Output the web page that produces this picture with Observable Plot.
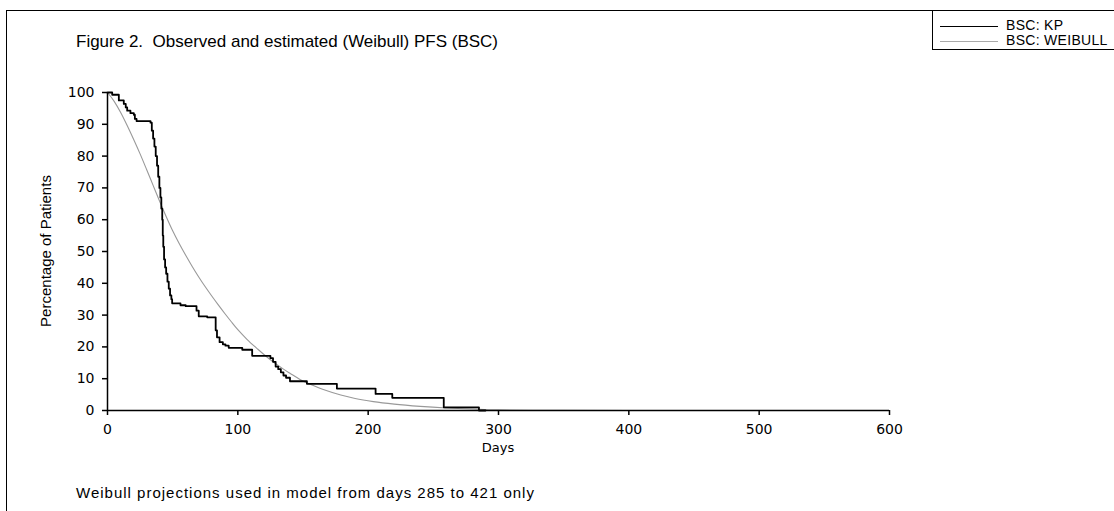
<!DOCTYPE html>
<html><head><meta charset="utf-8">
<script src="https://cdn.jsdelivr.net/npm/d3@7"></script>
<script src="https://cdn.jsdelivr.net/npm/@observablehq/plot@0.6"></script>
<style>
body{margin:0;background:#fff;}
#wrap{position:relative;width:1114px;height:511px;overflow:hidden;background:#fff;}
#frame{position:absolute;left:6px;top:10px;width:1300px;height:700px;border-left:1.5px solid #000;border-top:1.5px solid #000;}
#plot{position:absolute;left:0;top:0;}
#title{position:absolute;left:76px;top:32px;font:17px "Liberation Sans",Arial,sans-serif;white-space:pre;color:#000;}
#caption{position:absolute;left:76px;top:484px;font:15px "Liberation Sans",Arial,sans-serif;letter-spacing:1px;white-space:pre;color:#000;}
#xlabel{position:absolute;left:498px;top:440px;transform:translateX(-50%);font:13px "DejaVu Sans",sans-serif;color:#000;}
#ylabel{position:absolute;left:45px;top:251px;transform:translate(-50%,-50%) rotate(-90deg);font:15px "Liberation Sans Narrow","Liberation Sans",sans-serif;white-space:pre;color:#000;}
#legend{position:absolute;left:932px;top:10px;width:220px;height:38px;border:1.5px solid #000;background:#fff;}
.lg{position:absolute;left:0;height:14px;font:14px "Liberation Sans Narrow","Liberation Sans",sans-serif;letter-spacing:0.3px;white-space:pre;}
.lg span.ln{position:absolute;left:7px;width:58px;top:7px;}
.lg span.tx{position:absolute;left:73px;top:-2px;}
</style>
</head><body>
<div id="wrap">
  <div id="frame"></div>
  <div id="plot"></div>
  <div id="title"></div>
  <div id="xlabel"></div>
  <div id="ylabel"></div>
  <div id="caption"></div>
  <div id="legend"></div>
</div>
<script>
const titleText = "Figure 2.  Observed and estimated (Weibull) PFS (BSC)";
const captionText = "Weibull projections used in model from days 285 to 421 only";
const xLabel = "Days";
const yLabel = "Percentage of Patients";
const seriesNames = ["BSC: KP", "BSC: WEIBULL"];
const xTicks = [0, 100, 200, 300, 400, 500, 600];
const yTicks = [0, 10, 20, 30, 40, 50, 60, 70, 80, 90, 100];

// Kaplan-Meier (observed) PFS, step function: value holds from each day onward
const kpDays = [0, 3.6, 8.7, 12.5, 14, 15.1, 17.6, 20.2, 21, 22.3, 33, 34, 35, 36, 37, 38, 38.9, 39.8, 40.6, 41.3, 42, 42.4, 42.8, 43.4, 44.2, 45, 46, 47, 48, 49, 49.6, 56, 60, 68.3, 70, 76.5, 83, 84, 86, 88.5, 90.5, 93, 103.4, 111, 125, 127, 129, 131, 133, 135, 137, 140, 153, 176, 205.7, 218.5, 258, 285, 290];
const kpPct  = [100, 99.3, 97.5, 96.4, 95.3, 94.3, 93.5, 93, 91.7, 91, 90.5, 88, 85.5, 83, 80, 77, 73.5, 70, 67, 63.5, 60, 55, 51.5, 47.5, 45, 43, 40.5, 38.3, 36.2, 35, 33.7, 33.1, 32.8, 31.4, 29.6, 29.3, 25.2, 23, 21.5, 20.8, 20.4, 19.7, 19.1, 17.2, 16.5, 15.3, 13.8, 13, 12, 11, 10.3, 9.2, 8.4, 6.9, 5.2, 4, 1, 0, 0];

// Weibull (estimated) PFS
const wbDays = [0, 5, 10, 15, 20, 25, 30, 35, 40, 45, 50, 55, 60, 65, 70, 75, 80, 85, 90, 95, 100, 107, 115, 120, 128, 135, 140, 148, 155, 165, 179, 190, 204, 220, 240, 260, 285, 300, 350, 400, 485];
const wbPct  = [100, 97.3, 93.8, 89.7, 85.3, 80.7, 75.8, 70.8, 65.8, 61, 56.5, 52.5, 48.8, 45.3, 42, 38.9, 36, 33.2, 30.5, 27.9, 25.4, 22.4, 19.4, 17.6, 15, 13, 11.7, 9.7, 8.3, 6.7, 4.9, 3.8, 2.8, 2, 1.3, 0.8, 0.4, 0.2, 0.05, 0, 0];

const kp = kpDays.map((d, i) => ({day: d, pct: kpPct[i]}));
const wb = wbDays.map((d, i) => ({day: d, pct: wbPct[i]}));

const chart = Plot.plot({
  width: 1114,
  height: 511,
  marginLeft: 107,
  marginRight: 225,
  marginTop: 92,
  marginBottom: 101,
  style: {fontFamily: "DejaVu Sans, sans-serif", fontSize: "14px", color: "#000", background: "transparent", overflow: "visible"},
  x: {domain: [0, 600]},
  y: {domain: [0, 100]},
  marks: [
    Plot.axisX({ticks: xTicks, tickSize: 5, tickPadding: 9, label: null, tickFormat: d => String(d), stroke: "#000", strokeWidth: 1.5, fontSize: 14}),
    Plot.axisY({ticks: yTicks, tickSize: 5, tickPadding: 8, label: null, tickFormat: d => String(d), stroke: "#000", strokeWidth: 1.5, fontSize: 14}),
    Plot.line(wb, {x: "day", y: "pct", stroke: "#999", strokeWidth: 1.1, curve: "monotone-x"}),
    Plot.line(kp, {x: "day", y: "pct", stroke: "#000", strokeWidth: 1.8, curve: "step-after"}),
    Plot.ruleY([0], {stroke: "#000", strokeWidth: 1.5}),
    Plot.ruleX([0], {stroke: "#000", strokeWidth: 1.5})
  ]
});
document.getElementById("plot").appendChild(chart);

document.getElementById("title").textContent = titleText;
document.getElementById("caption").textContent = captionText;
document.getElementById("xlabel").textContent = xLabel;
document.getElementById("ylabel").textContent = yLabel;

const legend = document.getElementById("legend");
const styles = [{border: "1.5px solid #000", top: 8}, {border: "1px solid #aaa", top: 23}];
seriesNames.forEach((name, i) => {
  const row = document.createElement("div");
  row.className = "lg";
  row.style.top = styles[i].top + "px";
  const ln = document.createElement("span");
  ln.className = "ln";
  ln.style.borderTop = styles[i].border;
  const tx = document.createElement("span");
  tx.className = "tx";
  tx.textContent = name;
  row.appendChild(ln);
  row.appendChild(tx);
  legend.appendChild(row);
});
</script>
</body></html>
